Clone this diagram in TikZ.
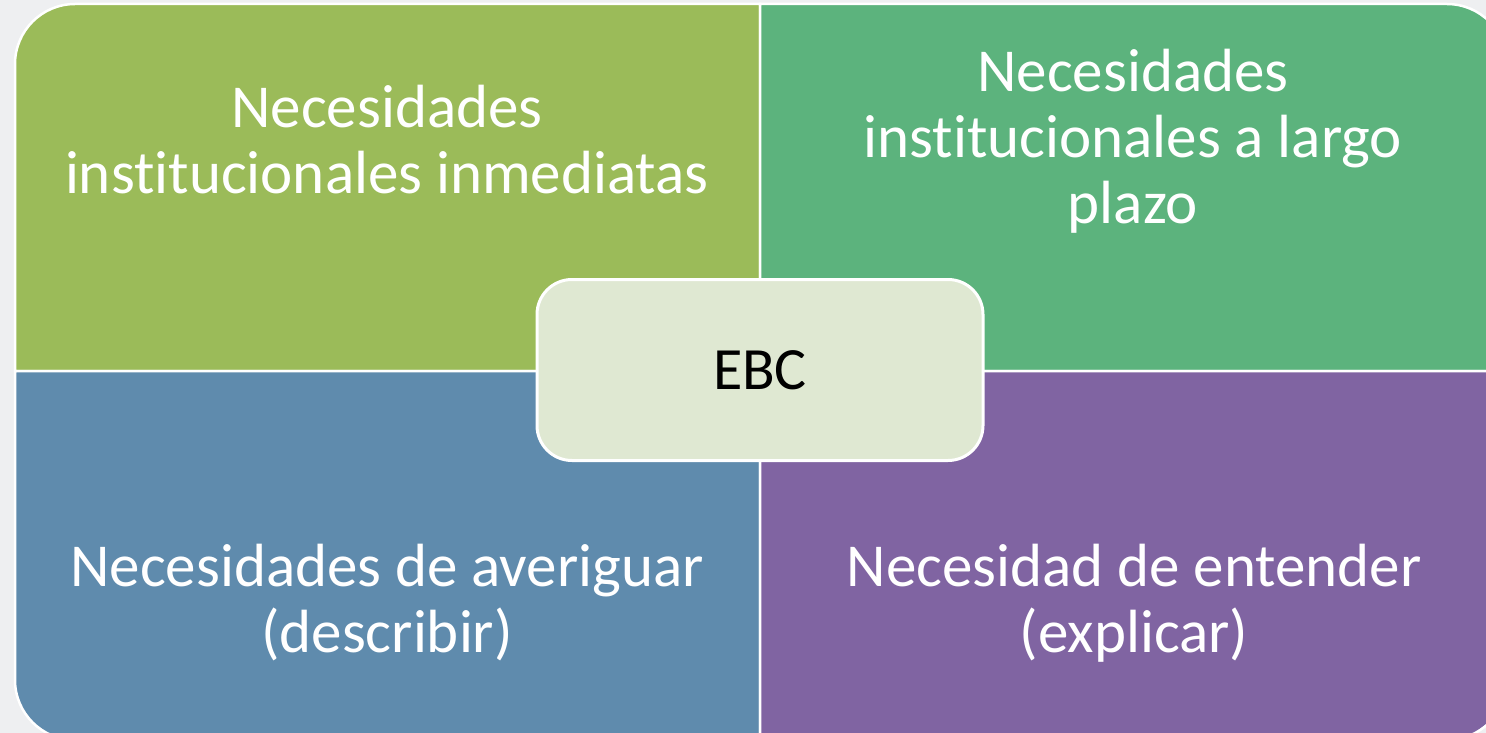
\documentclass[tikz,border=0pt]{standalone}
\usepackage{fontspec}
\setmainfont[Ligatures=NoCommon]{Carlito}
\definecolor{fondo}{RGB}{238,239,241}
\definecolor{oliva}{HTML}{9BBB59}
\definecolor{verde}{HTML}{5CB37D}
\definecolor{azul}{HTML}{5F8BAD}
\definecolor{morado}{HTML}{8064A2}
\definecolor{centro}{HTML}{DFE8D2}
\tikzset{
  cuadro/.style={draw=white,line width=2.5pt},
  texto/.style={text=white,align=center,inner sep=0pt,
    font=\fontsize{61}{66}\selectfont}
}

\begin{document}
\begin{tikzpicture}[x=1pt,y=-1pt]
            \fill[fondo] (0,0) rectangle (1486,733);
            \useasboundingbox (0,0) rectangle (1486,733);
            \clip (0,0) rectangle (1486,733);

            % cuadrantes
            \path[cuadro,fill=oliva] (760,371) -- (15,371) [rounded corners=60pt] -- (15,4) [sharp corners] -- (760,4) -- cycle;
            \path[cuadro,fill=verde] (760,371) -- (760,4) [rounded corners=60pt] -- (1507,4) [sharp corners] -- (1507,371) -- cycle;
            \path[cuadro,fill=azul] (760,371) -- (15,371) [rounded corners=60pt] -- (15,740) [sharp corners] -- (760,740) -- cycle;
            \path[cuadro,fill=morado] (760,371) -- (760,740) [rounded corners=60pt] -- (1507,740) [sharp corners] -- (1507,371) -- cycle;

            \node[texto] (inmed) at (387,140) {Necesidades\\institucionales inmediatas};
            \node[texto] (largo) at (1133,141) {Necesidades\\institucionales a largo\\plazo};
            \node[texto] (averig) at (387,603) {Necesidades de averiguar\\(describir)};
            \node[texto] (entend) at (1134,603) {Necesidad de entender\\(explicar)};

            \node[draw=white,line width=3pt,fill=centro,rounded corners=35pt,
                  minimum width=446pt,minimum height=181pt,
                  font=\fontsize{60}{66}\selectfont] (ebc) at (760,370) {EBC};
        \end{tikzpicture}
\end{document}
